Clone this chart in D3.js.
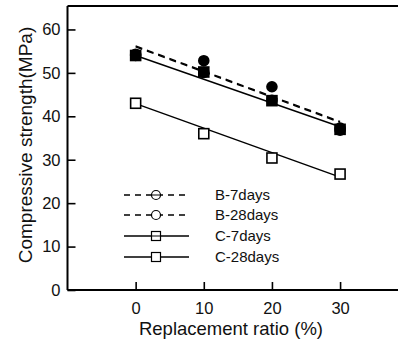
<!DOCTYPE html>
<html>
<head>
<meta charset="utf-8">
<script src="https://cdn.jsdelivr.net/npm/d3@7"></script>
<style>
  body { margin: 0; background: #fff; }
  text { font-family: "Liberation Sans", Arial, sans-serif; fill: #111; }
</style>
</head>
<body>
<div id="container"></div>
<script>
// replacement ratio (%)
const ratios = [0, 10, 20, 30];

// measured compressive strength (MPa)
const b7 = [54.3, 52.8, 46.8, 37.3];
const b28 = [54.0, 50.1, 43.7, 36.8];
const c7 = [54.0, 50.2, 43.6, 37.0];
const c28 = [43.0, 36.0, 30.4, 26.7];

// fitted lines, value at 0 % and 30 %
const fitX = [0, 30];
const b7Fit = [56.2, 38.8];
const b28Fit = [56.0, 38.6];
const c7Fit = [54.0, 37.6];
const c28Fit = [42.9, 26.0];

const xTicks = [0, 10, 20, 30];
const yTicks = [0, 10, 20, 30, 40, 50, 60];

const width = 403, height = 343;
const margin = { left: 67.5, top: 6, right: 5, bottom: 53 };

const svg = d3.select("#container")
  .append("svg")
  .attr("width", width)
  .attr("height", height);

const x = d3.scaleLinear()
  .domain([-10, 38.5])
  .range([margin.left, width - margin.right]);

const y = d3.scaleLinear()
  .domain([0, 65.4])
  .range([height - margin.bottom, margin.top]);

// frame: bottom, left and top lines
const g = svg.append("g");
g.append("line")
  .attr("x1", x(-10)).attr("x2", x(38.5))
  .attr("y1", y(0)).attr("y2", y(0))
  .attr("stroke", "#000").attr("stroke-width", 2);
g.append("line")
  .attr("x1", x(-10)).attr("x2", x(-10))
  .attr("y1", y(0)).attr("y2", y(65.4))
  .attr("stroke", "#000").attr("stroke-width", 2);
g.append("line")
  .attr("x1", x(-10)).attr("x2", x(38.5))
  .attr("y1", y(65.4)).attr("y2", y(65.4))
  .attr("stroke", "#000").attr("stroke-width", 2);

// axes with inward ticks
const xAxis = svg.append("g")
  .attr("transform", "translate(0," + y(0) + ")")
  .call(d3.axisBottom(x).tickValues(xTicks).tickSize(-8).tickPadding(12.5));
const yAxis = svg.append("g")
  .attr("transform", "translate(" + x(-10) + ",0)")
  .call(d3.axisLeft(y).tickValues(yTicks).tickSize(-8).tickPadding(7));

[xAxis, yAxis].forEach(a => {
  a.select(".domain").remove();
  a.selectAll(".tick line").attr("stroke", "#000").attr("stroke-width", 1.6);
  a.selectAll(".tick text")
    .style("font-family", "'Liberation Sans', Arial, sans-serif")
    .style("font-size", "16.5px")
    .attr("fill", "#111");
});

svg.append("text")
  .attr("x", 231).attr("y", 335)
  .attr("text-anchor", "middle")
  .style("font-size", "18.5px")
  .text("Replacement ratio (%)");

svg.append("text")
  .attr("transform", "translate(32,145) rotate(-90)")
  .attr("text-anchor", "middle")
  .style("font-size", "19px")
  .text("Compressive strength(MPa)");

// fit lines
const line = d3.line().x(d => x(d[0])).y(d => y(d[1]));
function fitLine(vals, dash) {
  svg.append("path")
    .datum(fitX.map((v, i) => [v, vals[i]]))
    .attr("fill", "none")
    .attr("stroke", "#000")
    .attr("stroke-width", 1.4)
    .attr("stroke-dasharray", dash ? "7,5" : null)
    .attr("d", line);
}
fitLine(b7Fit, true);
fitLine(b28Fit, true);
fitLine(c7Fit, false);
fitLine(c28Fit, false);

// markers
function squares(vals, filled) {
  svg.append("g").selectAll("rect")
    .data(vals)
    .join("rect")
    .attr("x", (d, i) => x(ratios[i]) - 5)
    .attr("y", d => y(d) - 5)
    .attr("width", 10).attr("height", 10)
    .attr("fill", filled ? "#000" : "#fff")
    .attr("stroke", "#000").attr("stroke-width", 1.6);
}
function circles(vals, filled) {
  svg.append("g").selectAll("circle")
    .data(vals)
    .join("circle")
    .attr("cx", (d, i) => x(ratios[i]))
    .attr("cy", d => y(d))
    .attr("r", 5)
    .attr("fill", filled ? "#000" : "#fff")
    .attr("stroke", "#000").attr("stroke-width", 1.6);
}
circles(b28, false);
circles(b7, true);
squares(c28, false);
squares(c7, true);

// legend
const legendItems = [
  { name: "B-7days", dash: true, shape: "circle", through: true },
  { name: "B-28days", dash: true, shape: "circle", through: false },
  { name: "C-7days", dash: false, shape: "square", through: true },
  { name: "C-28days", dash: false, shape: "square", through: false }
];
const legendY = [195, 215, 236, 257];
const leg = svg.append("g");
legendItems.forEach((it, i) => {
  const ly = legendY[i];
  const row = leg.append("g");
  row.append("line")
    .attr("x1", 124).attr("x2", 189)
    .attr("y1", ly).attr("y2", ly)
    .attr("stroke", "#000").attr("stroke-width", 1.3)
    .attr("stroke-dasharray", it.dash ? "6,5" : null);
  if (it.shape === "circle") {
    row.append("circle").attr("cx", 156).attr("cy", ly).attr("r", 4.5)
      .attr("fill", "#fff").attr("stroke", "#000").attr("stroke-width", 1.2);
  } else {
    row.append("rect").attr("x", 151.5).attr("y", ly - 4.5)
      .attr("width", 9).attr("height", 9)
      .attr("fill", "#fff").attr("stroke", "#000").attr("stroke-width", 1.2);
  }
  if (it.through) {
    row.append("line")
      .attr("x1", 151.5).attr("x2", 160.5)
      .attr("y1", ly).attr("y2", ly)
      .attr("stroke", "#000").attr("stroke-width", 1);
  }
  row.append("text")
    .attr("x", 215).attr("y", ly + 5)
    .style("font-size", "15px")
    .text(it.name);
});
</script>
</body>
</html>
